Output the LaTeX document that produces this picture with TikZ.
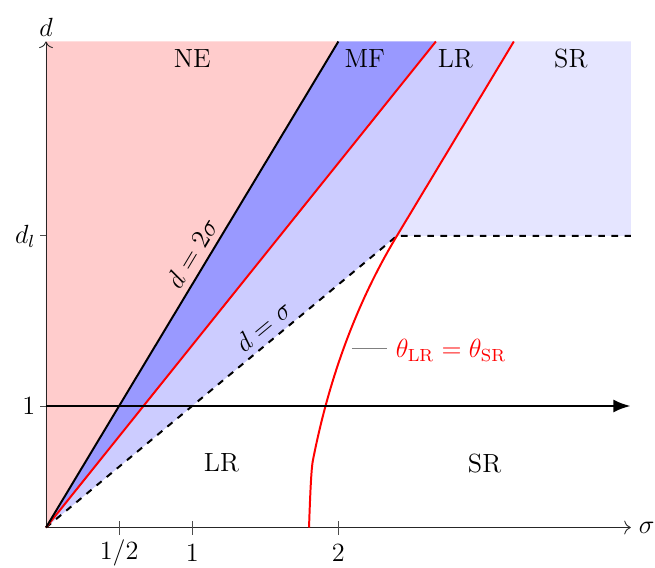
\documentclass[tikz,border=0pt]{standalone}
\usetikzlibrary{arrows.meta}
\begin{document}
\begin{tikzpicture}[x=2.344cm, y=1.948cm,
  every node/.style={font=\large},
  axis/.style={black!85, line width=0.4pt, -{To[length=3pt]}},
  tick/.style={black!70, line width=0.4pt},
  boundary/.style={line width=0.9pt}]
\useasboundingbox (-0.3146,-0.3251) rectangle (4.1655,4.3416);
% shaded regions
\fill[red!20] (0,0) -- (2,4) -- (0,4) -- cycle;
\fill[blue!40] (0,0) -- (2,4) -- (2.6667,4) -- cycle;
\fill[blue!20] (0,0) -- (2.6667,4) -- (3.2,4) -- (2.4,2.4) -- cycle;
\fill[blue!10] (2.4,2.4) -- (3.2,4) -- (4,4) -- (4,2.4) -- cycle;
% coordinates
\coordinate (O) at (0,0);
\coordinate (A) at (2,4);
\coordinate (B) at (2.6667,4);
\coordinate (C) at (2.4,2.4);
\coordinate (D) at (4,2.4);
\coordinate (E) at (3.2,4);
\coordinate (XE) at (4,0);
\coordinate (YE) at (0,4);
\coordinate (H0) at (0,1);
\coordinate (H1) at (4,1);
% axes
\draw[axis] (O) -- (XE) node[right, black, inner sep=3.5pt] (sig) {$\sigma$};
\draw[axis] (O) -- (YE) node[above, black, inner sep=2pt] (dlab) {$d$};
% ticks
\foreach \s/\t [count=\i] in {0.5/{1/2}, 1/1, 2/2}{
  \draw[tick] (\s,0.05) -- (\s,-0.058);
  \node (xt\i) at (\s,-0.21) {$\t$};
}
\draw[tick] (-0.04,1) -- (0,1);
\node[left, inner sep=2pt] (ylab1) at (-0.04,1) {$1$};
\draw[tick] (-0.04,2.4) -- (0,2.4);
\node[left, inner sep=2pt] (ylab2) at (-0.04,2.4) {$d_l$};
% boundaries
\draw[boundary, dashed] (O) -- (C) -- (D);
\draw[boundary, red] (O) -- (B);
\draw[boundary, red] (1.799,0) .. controls (1.805,0.2) and (1.812,0.45) .. (1.824,0.542)
  .. controls (1.924,1.162) and (2.1,1.8) .. (C) -- (E);
\draw[boundary, black] (O) -- (A);
% thick arrow
\draw[line width=1.3pt, -{Latex[length=8pt, width=6pt]}] (H0) -- (H1);
% line labels
\node[rotate=59] (l2s) at (0.997,2.26) {$d = 2\sigma$};
\node[rotate=39.7] (ls) at (1.484,1.658) {$d = \sigma$};
% region labels
\node (ne) at (1.0,3.86) {NE};
\node (mf) at (2.18,3.86) {MF};
\node (lrt) at (2.80,3.86) {LR};
\node (srt) at (3.59,3.86) {SR};
\node (lrb) at (1.2,0.53) {LR};
\node (srb) at (3.0,0.53) {SR};
% theta label
\coordinate (pinstart) at (2.093,1.476);
\node[anchor=west, text=red, inner sep=2pt] (th) at (2.36,1.455) {$\theta_{\mathrm{LR}} = \theta_{\mathrm{SR}}$};
\draw[gray, line width=0.3pt] (pinstart) -- (pinstart -| 2.33,0);
\end{tikzpicture}
\end{document}
